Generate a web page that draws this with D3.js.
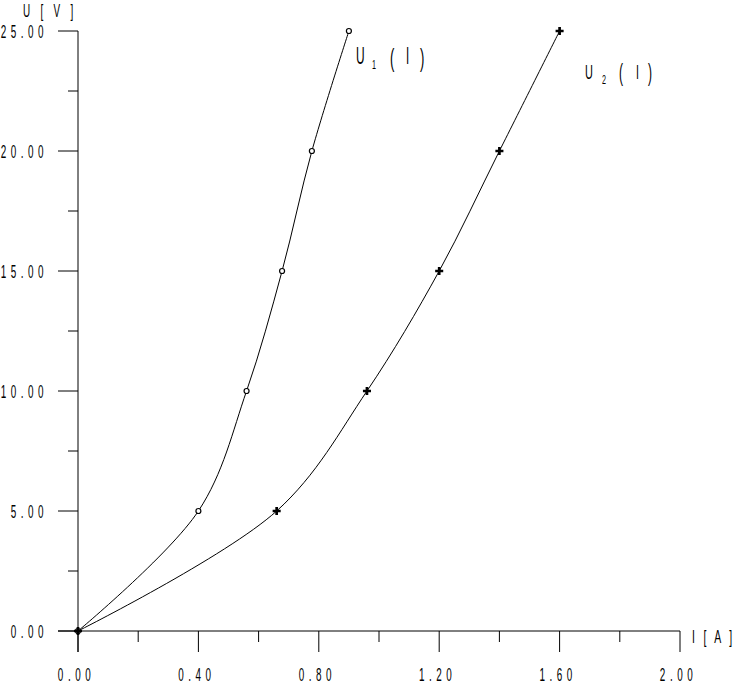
<!DOCTYPE html>
<html><head><meta charset="utf-8">
<script src="https://cdn.jsdelivr.net/npm/d3@7"></script>
<style>
body{margin:0;background:#fff;}
text{font-family:"Liberation Sans",Arial,sans-serif;fill:#000;}
</style></head>
<body>
<svg id="c" width="735" height="687"></svg>
<script>
const u1Current = [0, 0.40, 0.56, 0.678, 0.777, 0.90];
const u1Voltage = [0, 5, 10, 15, 20, 25];
const u2Current = [0, 0.66, 0.96, 1.20, 1.40, 1.60];
const u2Voltage = [0, 5, 10, 15, 20, 25];
const xTickValues = [0, 0.4, 0.8, 1.2, 1.6, 2.0];
const xTickLabels = ["0.00","0.40","0.80","1.20","1.60","2.00"];
const yTickValues = [0, 5, 10, 15, 20, 25];
const yTickLabels = ["0.00","5.00","10.00","15.00","20.00","25.00"];

const svg = d3.select("#c");
const x = d3.scaleLinear().domain([0, 2]).range([78, 680]);
const y = d3.scaleLinear().domain([0, 25]).range([631, 31]);

const SX = 0.55;
// condensed, letter-spaced text helper
function ctext(px, py, str, size, lsPost, anchor, sx) {
  sx = sx || SX;
  const g = svg.append("g").attr("transform", `translate(${px},${py}) scale(${sx},1)`);
  return g.append("text").attr("x", 0).attr("y", 0)
    .attr("text-anchor", anchor || "start")
    .style("font-size", size + "px")
    .style("letter-spacing", (lsPost / sx) + "px")
    .text(str);
}

// X axis
const gx = svg.append("g");
gx.append("line").attr("x1", 58).attr("x2", x(2)).attr("y1", y(0)).attr("y2", y(0)).attr("stroke", "#000");
d3.range(0, 2.0001, 0.2).forEach((v, i) => {
  const major = i % 2 === 0;
  gx.append("line").attr("x1", x(v)).attr("x2", x(v)).attr("y1", y(0)).attr("y2", y(0) + (major ? 21 : 11)).attr("stroke", "#000");
});
xTickValues.forEach((v, i) => {
  ctext(x(v) - 1.5, 681, xTickLabels[i], 18, 4.5, "middle");
});
// Y axis
const gy = svg.append("g");
gy.append("line").attr("x1", x(0)).attr("x2", x(0)).attr("y1", y(25)).attr("y2", y(0) + 21).attr("stroke", "#000");
d3.range(0, 25.001, 2.5).forEach((v, i) => {
  const major = i % 2 === 0;
  gy.append("line").attr("x1", x(0) - (major ? 20 : 10)).attr("x2", x(0)).attr("y1", y(v)).attr("y2", y(v)).attr("stroke", "#000");
});
yTickValues.forEach((v, i) => {
  ctext(48, y(v) + 7, yTickLabels[i], 18, 4.5, "end");
});
// Axis titles
ctext(23, 17, "U [ V ]", 18, 3.8, "start");
ctext(692, 643, "I [ A ]", 19, 2.8, "start");

// Curves
const line = d3.line().x(d => x(d[0])).y(d => y(d[1])).curve(d3.curveCatmullRom.alpha(0.5));
const d1 = u1Current.map((c, i) => [c, u1Voltage[i]]);
const d2 = u2Current.map((c, i) => [c, u2Voltage[i]]);
svg.append("path").attr("d", line(d1)).attr("fill", "none").attr("stroke", "#000").attr("stroke-width", 1);
svg.append("path").attr("d", line(d2)).attr("fill", "none").attr("stroke", "#000").attr("stroke-width", 1);

// Markers
svg.selectAll(".m1").data(d1).enter().append("circle").attr("cx", d => x(d[0])).attr("cy", d => y(d[1]))
  .attr("r", 2.5).attr("fill", "#fff").attr("stroke", "#000").attr("stroke-width", 1.2);
const plus = d3.symbol().type(d3.symbolCross).size(36);
svg.selectAll(".m2").data(d2).enter().append("path").attr("d", plus)
  .attr("transform", d => `translate(${x(d[0])},${y(d[1])})`).attr("fill", "#000");

// Series labels
ctext(356, 64, "U", 23, 0, "start", 0.52);
ctext(372, 69, "1", 12, 0, "start", 0.6);
ctext(390, 67, "(", 26, 0, "start", 0.5);
ctext(406, 64, "I", 23, 0, "start", 0.5);
ctext(420, 67, ")", 26, 0, "start", 0.5);

ctext(585, 79, "U", 21, 0, "start", 0.52);
ctext(602, 84, "2", 12, 0, "start", 0.6);
ctext(619, 81, "(", 24, 0, "start", 0.5);
ctext(636, 79, "I", 21, 0, "start", 0.5);
ctext(648, 81, ")", 24, 0, "start", 0.5);
</script>
</body></html>
